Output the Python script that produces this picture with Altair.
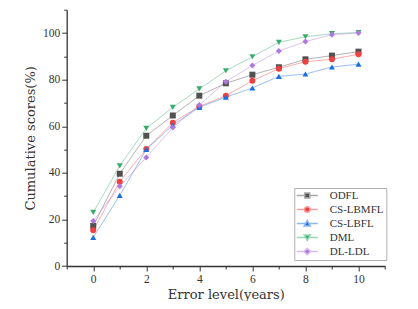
import altair as alt
import pandas as pd

error_levels = [0, 1, 2, 3, 4, 5, 6, 7, 8, 9, 10]
series_names = ["ODFL", "CS-LBMFL", "CS-LBFL", "DML", "DL-LDL"]
odfl = [17.2, 39.6, 55.9, 64.6, 73.1, 78.4, 82.1, 85.3, 88.7, 90.3, 92.0]
cs_lbmfl = [15.3, 36.2, 50.2, 61.5, 68.5, 73.1, 79.5, 84.7, 87.7, 88.7, 90.9]
cs_lbfl = [12.3, 30.3, 50.0, 60.5, 68.1, 72.5, 76.4, 81.4, 82.4, 85.4, 86.6]
dml = [23.0, 43.0, 59.1, 68.1, 76.0, 83.8, 89.8, 96.0, 98.4, 99.7, 100.2]
dl_ldl = [19.3, 34.2, 46.6, 59.4, 69.1, 79.1, 86.1, 92.3, 96.3, 99.3, 100.0]

x_ticks = list(range(-1, 12))
y_ticks = list(range(0, 111, 10))

colors = ["#515151", "#F14040", "#1A6FDF", "#37AD6B", "#B177DE"]
light_colors = ["#a8a8a8", "#f8a0a0", "#8cb7ef", "#9bd6b5", "#d8bbee"]
shapes = ["square", "circle", "triangle-up", "triangle-down", "diamond"]
legend_paths = [
    "M-1.68,0H0.97M2.67,0H5.32M0.97,-0.85H2.67V0.85H0.97Z",
    "M-1.68,0H0.87M2.77,0H5.32M0.87,0A0.95,0.95 0 1,0 2.77,0A0.95,0.95 0 1,0 0.87,0Z",
    "M-1.68,0H1.25M2.39,0H5.32M1.82,-1L2.87,0.85H0.77Z",
    "M-1.68,0H1.25M2.39,0H5.32M1.82,1L2.87,-0.85H0.77Z",
    "M-1.68,0H0.72M2.92,0H5.32M1.82,-1.1L2.92,0L1.82,1.1L0.72,0Z",
]

values = [odfl, cs_lbmfl, cs_lbfl, dml, dl_ldl]
rows = []
for name, vals in zip(series_names, values):
    for x, v in zip(error_levels, vals):
        rows.append({"level": x, "score": v, "series": name})
df = pd.DataFrame(rows)

x_enc = alt.X(
    "level:Q",
    scale=alt.Scale(domain=[-1, 11], nice=False, zero=False),
    axis=alt.Axis(
        title="Error level(years)",
        values=x_ticks,
        labelExpr="(datum.value % 2 === 0 && datum.value >= 0 && datum.value <= 10) ? datum.label : ''",
        tickSize={"condition": {"test": "datum.value % 2 === 0", "value": 5}, "value": 3},
        labelOverlap=False,
        labelPadding=2,
        titlePadding=4,
    ),
)
y_enc = alt.Y(
    "score:Q",
    scale=alt.Scale(domain=[0, 110], nice=False),
    axis=alt.Axis(
        title="Cumulative scores(%)",
        values=y_ticks,
        labelExpr="(datum.value % 20 === 0 && datum.value <= 100) ? datum.label : ''",
        tickSize={"condition": {"test": "datum.value % 20 === 0", "value": 5}, "value": 3},
        labelOverlap=False,
        labelPadding=2,
        titlePadding=5,
    ),
)

color_scale = alt.Scale(domain=series_names, range=colors)

base = alt.Chart(df)

# invisible layer that only feeds the legend (line + marker symbols)
legend_layer = base.mark_point(size=36, strokeWidth=0.9, opacity=0).encode(
    x=x_enc,
    y=y_enc,
    fill=alt.Fill("series:N", scale=alt.Scale(domain=series_names, range=colors), title=None),
    stroke=alt.Stroke("series:N", scale=alt.Scale(domain=series_names, range=light_colors), title=None),
    shape=alt.Shape(
        "series:N",
        scale=alt.Scale(domain=series_names, range=legend_paths),
        title=None,
        legend=alt.Legend(
            orient="none",
            legendX=227.6,
            legendY=178.3,
            padding=2,
            labelOffset=22.4,
            rowPadding=1,
            symbolSize=36,
            symbolOpacity=1,
            strokeColor="#b0b0b0",
            fillColor="white",
        ),
    ),
)

lines = base.mark_line(strokeWidth=0.8, opacity=0.55).encode(
    x=x_enc,
    y=y_enc,
    color=alt.Color("series:N", scale=color_scale, legend=None),
    detail="series:N",
)

point_layers = []
for name, col, shp in zip(series_names, colors, shapes):
    point_layers.append(
        base.transform_filter(alt.datum.series == name)
        .mark_point(filled=True, size=36, opacity=1, shape=shp, color=col)
        .encode(x=x_enc, y=y_enc)
    )

chart = (
    alt.layer(legend_layer, lines, *point_layers)
    .properties(
        width=318.3,
        height=256.3,
        autosize=alt.AutoSizeParams(type="none"),
        padding={"left": 58.7, "top": 1.7, "right": 25, "bottom": 35},
    )
    .configure_view(stroke=None)
    .configure_axis(
        grid=False,
        domainColor="#333333",
        domainWidth=1.3,
        tickColor="#333333",
        tickWidth=1,
        labelFont="Liberation Serif",
        labelFontSize=11.5,
        labelColor="#333333",
        titleFont="DejaVu Serif",
        titleFontSize=13,
        titleFontWeight="normal",
        titleColor="#333333",
    )
    .configure_legend(
        labelFont="Liberation Serif",
        labelFontSize=11,
        labelColor="#333333",
    )
)

chart.save("out.html", embed_options={"renderer": "svg", "actions": False})
